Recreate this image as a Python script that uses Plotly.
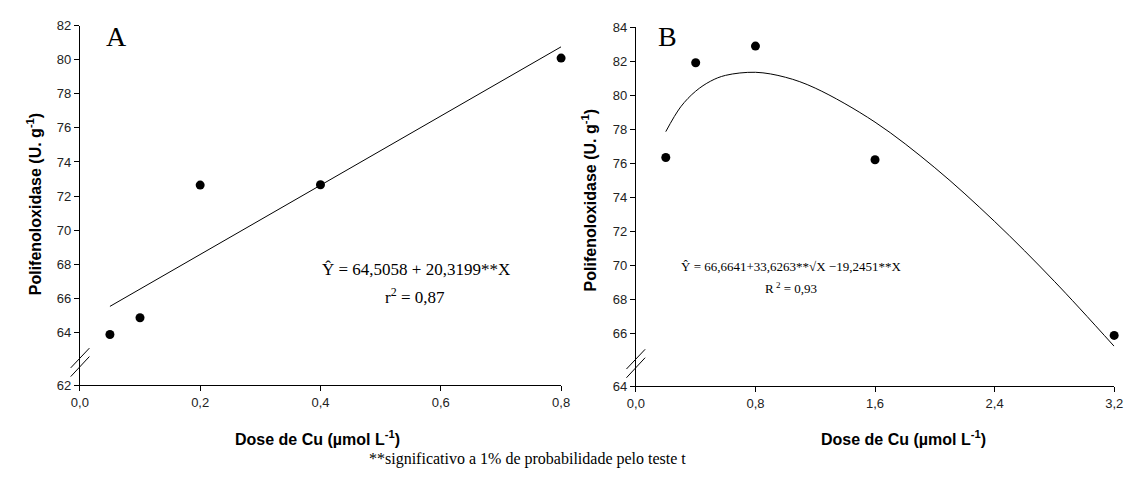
import plotly.graph_objects as go

W, H = 1134, 481

# ---------------- data ----------------
doseA = [0.05, 0.1, 0.2, 0.4, 0.8]
ppoA = [63.87, 64.85, 72.64, 72.66, 80.1]
fitA_x = [0.05, 0.8]
fitA_y = [65.52, 80.76]

doseB = [0.2, 0.4, 0.8, 1.6, 3.2]
ppoB = [76.33, 81.9, 82.88, 76.2, 65.87]
fitB_x = [0.2, 0.3, 0.4, 0.5, 0.6, 0.8, 1.0, 1.2, 1.6, 2.0, 2.4, 2.8, 3.2]
fitB_y = [77.85, 79.31, 80.23, 80.82, 81.16, 81.34, 81.05, 80.41, 78.41, 75.73, 72.57, 69.05, 65.23]

xticksA = [0, 0.2, 0.4, 0.6, 0.8]
xticksB = [0, 0.8, 1.6, 2.4, 3.2]
yticksA = [64, 66, 68, 70, 72, 74, 76, 78, 80, 82]
yticksB = [66, 68, 70, 72, 74, 76, 78, 80, 82, 84]
ybreak_labelA = "62"
ybreak_labelB = "64"

eqA = ["Ŷ = 64,5058 + 20,3199**X", "r<sup>2</sup> = 0,87"]
eqB = ["Ŷ = 66,6641+33,6263**√X −19,2451**X", "R<sup> 2</sup> = 0,93"]
ytitle = "<b>Polifenoloxidase (U. g<sup>-1</sup>)</b>"
xtitle = "<b>Dose de Cu (µmol L<sup>-1</sup>)</b>"
note = "**significativo a 1% de probabilidade pelo teste t"

# ---------------- layout helpers ----------------
def px(x):
    return x / W

def py(y):
    return 1 - y / H

SANS = "Liberation Sans, Arial, sans-serif"
SERIF = "Liberation Serif, Times New Roman, serif"

# axis-break bottoms (visual break below first real tick)
botA = 64 - (390.5 - 335.7) / 17.59
botB = 66 - (391.7 - 336.7) / 17.56

fig = go.Figure()
mk = dict(color="black", size=9)
fig.add_trace(go.Scatter(x=fitA_x, y=fitA_y, mode="lines", line=dict(color="black", width=1),
                         xaxis="x", yaxis="y", showlegend=False, hoverinfo="skip"))
fig.add_trace(go.Scatter(x=doseA, y=ppoA, mode="markers", marker=mk, cliponaxis=False,
                         xaxis="x", yaxis="y", showlegend=False))
fig.add_trace(go.Scatter(x=fitB_x, y=fitB_y, mode="lines", line=dict(color="black", width=1, shape="spline"),
                         xaxis="x2", yaxis="y2", showlegend=False, hoverinfo="skip"))
fig.add_trace(go.Scatter(x=doseB, y=ppoB, mode="markers", marker=mk, cliponaxis=False,
                         xaxis="x2", yaxis="y2", showlegend=False))

axcommon = dict(showline=True, linecolor="black", linewidth=1, ticks="outside", ticklen=5,
                tickcolor="black", tickwidth=1, showgrid=False, zeroline=False,
                tickfont=dict(family=SANS, size=13, color="#222"))

fig.update_layout(
    width=W, height=H, margin=dict(l=0, r=0, t=0, b=0),
    paper_bgcolor="white", plot_bgcolor="white",
    separators=",.",
    xaxis=dict(domain=[px(72), px(561)], range=[0, 0.8], tickvals=xticksA, tickformat=".1f",
               anchor="y", **axcommon),
    yaxis=dict(domain=[py(390.5), py(19.3)], range=[botA, 82],
               tickvals=[botA] + yticksA, ticktext=[ybreak_labelA] + [str(v) for v in yticksA],
               anchor="x", **axcommon),
    xaxis2=dict(domain=[px(637), px(1123)], range=[0, 3.2], tickvals=xticksB, tickformat=".1f",
                anchor="y2", **axcommon),
    yaxis2=dict(domain=[py(391.7), py(20.7)], range=[botB, 84],
                tickvals=[botB] + yticksB, ticktext=[ybreak_labelB] + [str(v) for v in yticksB],
                anchor="x2", **axcommon),
)

ann = []
def A(text, x, y, size, family, angle=0, xanchor="center", yanchor="middle"):
    ann.append(dict(text=text, x=px(x), y=py(y), xref="paper", yref="paper", showarrow=False,
                    xanchor=xanchor, yanchor=yanchor, textangle=angle,
                    font=dict(family=family, size=size, color="black")))

A(ytitle, 25, 204, 16, SANS, angle=-90)
A(ytitle, 589, 200, 16, SANS, angle=-90)
A(xtitle, 313, 445, 16, SANS)
A(xtitle, 909, 445, 16, SANS)
A("A", 109, 30, 28, SERIF)
A("B", 669, 30, 28, SERIF)
A(eqA[0], 414, 271, 17, SERIF)
A(eqA[1], 413, 298, 17, SERIF)
A(eqB[0], 795, 268, 13, SERIF)
A(eqB[1], 795, 290, 13, SERIF)
A(note, 527, 467, 16, SERIF)
fig.update_layout(annotations=ann)

# axis break marks
shapes = []
for ax_x, bot_y in [(72.3, 390.5), (637, 391.7)]:
    for (y1, y2) in [(-18, -38.4), (-9, -29.7)]:
        shapes.append(dict(type="line", xref="paper", yref="paper",
                           x0=px(ax_x - 9.6), y0=py(bot_y + y1), x1=px(ax_x + 9.4), y1=py(bot_y + y2),
                           line=dict(color="black", width=1)))
fig.update_layout(shapes=shapes)

fig.write_html("out.html")
